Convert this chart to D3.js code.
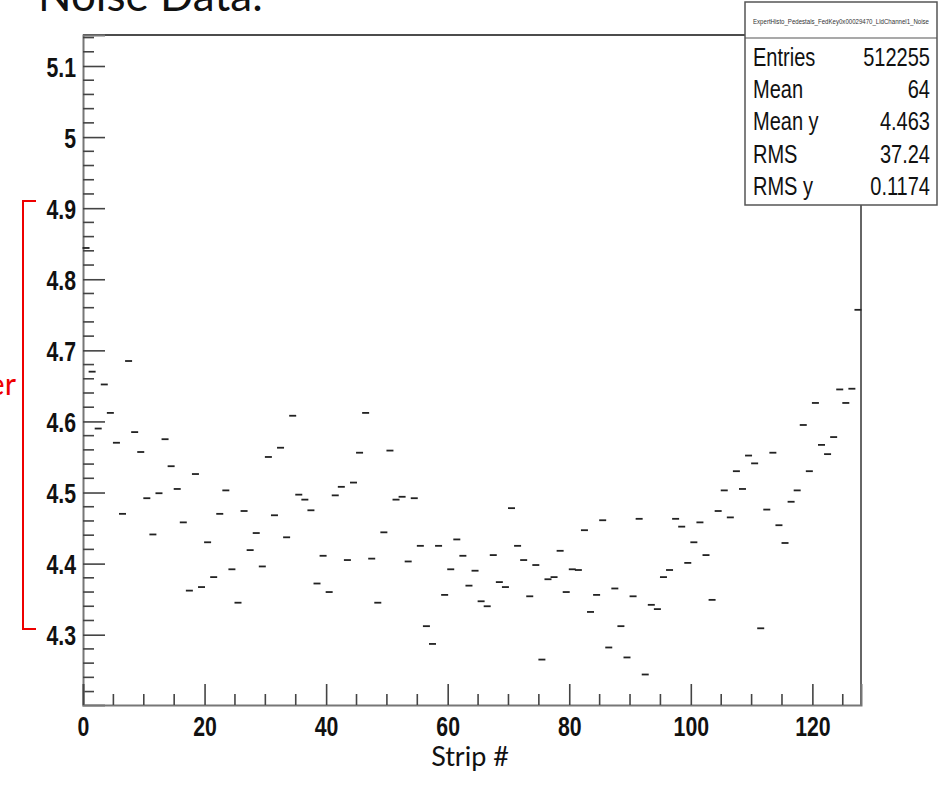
<!DOCTYPE html>
<html>
<head>
<meta charset="utf-8">
<script src="https://cdn.jsdelivr.net/npm/d3@7/dist/d3.min.js"></script>
<style>
  html, body { margin: 0; padding: 0; background: #fff; overflow: hidden; }
  svg { display: block; }
</style>
</head>
<body>
<div id="chart"></div>
<script>
// mean noise per strip (bins 0..127)
const noiseValues = [
  4.844, 4.670, 4.590, 4.652, 4.612, 4.570, 4.470, 4.685, 4.585, 4.557,
  4.492, 4.441, 4.499, 4.575, 4.537, 4.505, 4.458, 4.362, 4.526, 4.367,
  4.430, 4.381, 4.470, 4.503, 4.392, 4.345, 4.474, 4.419, 4.443, 4.396,
  4.550, 4.468, 4.563, 4.437, 4.608, 4.497, 4.490, 4.475, 4.372, 4.411,
  4.360, 4.496, 4.508, 4.405, 4.514, 4.556, 4.612, 4.407, 4.345, 4.444,
  4.559, 4.490, 4.494, 4.403, 4.492, 4.425, 4.312, 4.287, 4.425, 4.356,
  4.392, 4.434, 4.411, 4.369, 4.390, 4.347, 4.340, 4.412, 4.374, 4.367,
  4.478, 4.425, 4.405, 4.354, 4.398, 4.265, 4.378, 4.381, 4.418, 4.360,
  4.392, 4.391, 4.447, 4.332, 4.356, 4.461, 4.282, 4.365, 4.312, 4.268,
  4.354, 4.463, 4.244, 4.342, 4.336, 4.381, 4.391, 4.463, 4.452, 4.401,
  4.430, 4.458, 4.412, 4.349, 4.474, 4.503, 4.465, 4.530, 4.505, 4.552,
  4.541, 4.309, 4.476, 4.556, 4.454, 4.429, 4.487, 4.503, 4.595, 4.530,
  4.626, 4.567, 4.554, 4.578, 4.645, 4.626, 4.646, 4.757
];

const xMajorTicks = [0, 20, 40, 60, 80, 100, 120];
const yMajorTicks = [4.3, 4.4, 4.5, 4.6, 4.7, 4.8, 4.9, 5.0, 5.1];
const yTickLabels = ['4.3', '4.4', '4.5', '4.6', '4.7', '4.8', '4.9', '5', '5.1'];

const statsTitle = 'ExpertHisto_Pedestals_FedKey0x00029470_LldChannel1_Noise';
const statsLabels = ['Entries', 'Mean', 'Mean y', 'RMS', 'RMS y'];
const statsValues = ['512255', '64', '4.463', '37.24', '0.1174'];

const xDomain = [0, 128];
const yDomain = [4.2011, 5.1436];

const W = 941, H = 786;
const frame = {left: 83, right: 861, top: 35, bottom: 705};

// no narrow helvetica installed -> squeeze Liberation Sans horizontally
const rootFont = "'Liberation Sans', Arial, sans-serif";
const slideFont = "Lato, 'Open Sans', sans-serif";

function narrow(sel, k) {
  sel.each(function() {
    let t = d3.select(this);
    let tx = +t.attr('x') || 0, ty = +t.attr('y') || 0;
    t.attr('x', 0).attr('y', 0)
      .attr('transform', `translate(${tx},${ty}) scale(${k},1)`);
  });
}

const svg = d3.select('#chart').append('svg')
  .attr('width', W)
  .attr('height', H);

const x = d3.scaleLinear().domain(xDomain).range([frame.left, frame.right]);
const y = d3.scaleLinear().domain(yDomain).range([frame.bottom, frame.top]);

// slide title, mostly cut off at the top
svg.append('text')
  .attr('x', 38)
  .attr('y', 11)
  .style('font-family', slideFont)
  .style('font-size', '44px')
  .style('fill', '#111')
  .text('Noise Data:');

// frame (top + right are plain lines, ROOT draws no ticks there)
svg.append('line')
  .attr('x1', frame.left).attr('x2', frame.right)
  .attr('y1', frame.top).attr('y2', frame.top)
  .style('stroke', '#111').style('stroke-width', 1.5);
svg.append('line')
  .attr('x1', frame.right).attr('x2', frame.right)
  .attr('y1', frame.top).attr('y2', frame.bottom)
  .style('stroke', '#666').style('stroke-width', 2);

// y axis: ticks point inwards, minor every 0.02
const yMinor = d3.range(4.22, 5.145, 0.02).map(v => +v.toFixed(2))
  .filter(v => !yMajorTicks.some(m => Math.abs(m - v) < 1e-6));

const yAxis = d3.axisLeft(y)
  .tickValues(yMajorTicks)
  .tickSize(-22)
  .tickPadding(7)
  .tickFormat((d, i) => yTickLabels[i]);

const gy = svg.append('g')
  .attr('transform', `translate(${frame.left},0)`)
  .call(yAxis);

gy.selectAll('line.minor').data(yMinor).enter().append('line')
  .attr('class', 'minor')
  .attr('x1', 0).attr('x2', 11)
  .attr('y1', d => y(d)).attr('y2', d => y(d));

// x axis: minor every 5
const xMinor = d3.range(5, 128, 5).filter(v => v % 20 !== 0);

const xAxis = d3.axisBottom(x)
  .tickValues(xMajorTicks)
  .tickSize(-21)
  .tickPadding(11)
  .tickFormat(d3.format('d'));

const gx = svg.append('g')
  .attr('transform', `translate(0,${frame.bottom})`)
  .call(xAxis);

gx.selectAll('line.minor').data(xMinor).enter().append('line')
  .attr('class', 'minor')
  .attr('x1', d => x(d)).attr('x2', d => x(d))
  .attr('y1', 0).attr('y2', -11);

// style both axes the same way
svg.selectAll('.domain')
  .style('stroke', '#777')
  .style('stroke-width', 2);
svg.selectAll('.tick line, line.minor')
  .style('stroke', '#444')
  .style('stroke-width', 1.6);
svg.selectAll('.tick text')
  .style('font-family', rootFont)
  .style('font-weight', 'bold')
  .style('font-size', '28px')
  .style('fill', '#111');
gy.selectAll('.tick text').attr('dy', '0.36em');
gx.selectAll('.tick text').attr('dy', '0.71em');
narrow(svg.selectAll('.tick text'), 0.76);

// profile markers: short horizontal dash at each bin centre
svg.append('g').attr('class', 'points')
  .selectAll('line')
  .data(noiseValues)
  .enter().append('line')
  .attr('x1', (d, i) => x(i + 0.5) - 3.5)
  .attr('x2', (d, i) => x(i + 0.5) + 3.5)
  .attr('y1', d => y(d))
  .attr('y2', d => y(d))
  .style('stroke', '#222')
  .style('stroke-width', 1.8);

// axis title
svg.append('text')
  .attr('x', 470)
  .attr('y', 766)
  .attr('text-anchor', 'middle')
  .style('font-family', slideFont)
  .style('font-size', '27px')
  .style('fill', '#111')
  .text('Strip #');

// red bracket + label cut at the left edge
svg.append('path')
  .attr('d', 'M36,201 L23,201 L23,629 L36,629')
  .style('fill', 'none')
  .style('stroke', '#e00')
  .style('stroke-width', 2);
svg.append('text')
  .attr('x', 16)
  .attr('y', 395)
  .attr('text-anchor', 'end')
  .style('font-family', slideFont)
  .style('font-size', '31px')
  .style('fill', '#e00')
  .text('Outlier');

// stats box
const box = {x: 745, y: 2, w: 192, h: 203};
const stats = svg.append('g').attr('class', 'stats');
stats.append('rect')
  .attr('x', box.x).attr('y', box.y)
  .attr('width', box.w).attr('height', box.h)
  .style('fill', '#fff')
  .style('stroke', '#555')
  .style('stroke-width', 1.5);
stats.append('line')
  .attr('x1', box.x).attr('x2', box.x + box.w)
  .attr('y1', 38).attr('y2', 38)
  .style('stroke', '#555').style('stroke-width', 1.2);
stats.append('text')
  .attr('x', box.x + box.w / 2)
  .attr('y', 24)
  .attr('text-anchor', 'middle')
  .attr('textLength', 176)
  .attr('lengthAdjust', 'spacingAndGlyphs')
  .style('font-family', rootFont)
  .style('font-size', '8px')
  .style('fill', '#333')
  .text(statsTitle);

const rowY = d3.scaleLinear().domain([0, 4]).range([65.5, 195]);
stats.selectAll('text.lbl').data(statsLabels).enter().append('text')
  .attr('class', 'lbl')
  .attr('x', 753)
  .attr('y', (d, i) => rowY(i))
  .style('font-family', rootFont)
  .style('font-size', '26px')
  .style('fill', '#111')
  .text(d => d);
stats.selectAll('text.val').data(statsValues).enter().append('text')
  .attr('class', 'val')
  .attr('x', 930)
  .attr('y', (d, i) => rowY(i))
  .attr('text-anchor', 'end')
  .style('font-family', rootFont)
  .style('font-size', '26px')
  .style('fill', '#111')
  .text(d => d);
narrow(stats.selectAll('text.lbl, text.val'), 0.77);
</script>
</body>
</html>
